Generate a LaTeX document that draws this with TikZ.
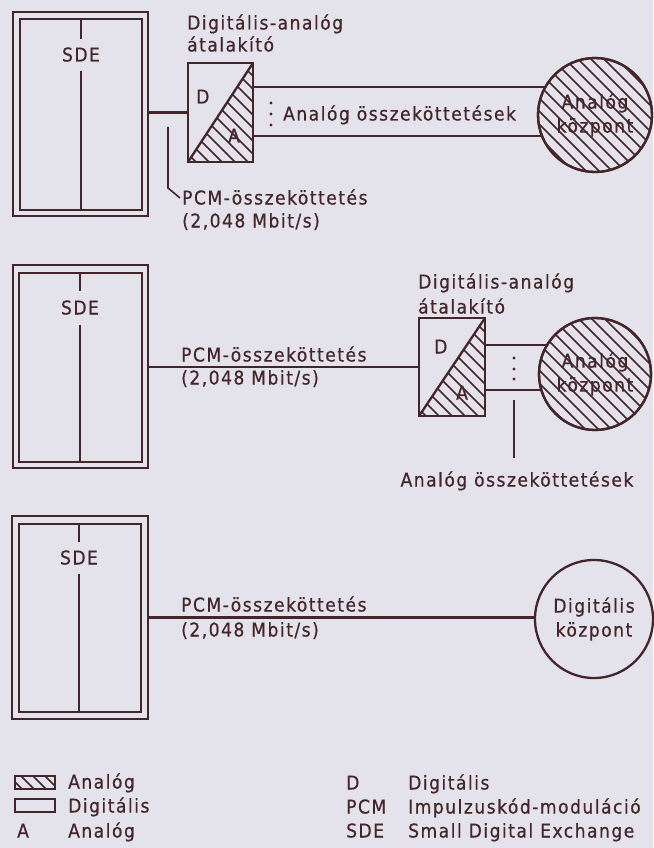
\documentclass[tikz,border=0pt]{standalone}
\usepackage{fontspec}
\setmainfont{DejaVu Sans Condensed}[LetterSpace=8,FakeBold=0.6]
\usetikzlibrary{calc}
\definecolor{ink}{RGB}{68,38,42}
\definecolor{bgc}{RGB}{228,227,235}
\pgfdeclarelayer{bgl}
\pgfdeclarelayer{conn}
\pgfsetlayers{bgl,conn,main}
\tikzset{
  inkline/.style={draw=ink, line width=2.3pt},
  thinline/.style={draw=ink, line width=1.6pt},
  box/.style={draw=ink, line width=2.3pt, rectangle, inner sep=0pt, outer sep=0pt},
  exch/.style={draw=ink, line width=2.3pt, circle, fill=bgc, inner sep=0pt, outer sep=0pt, minimum size=#1},
  lbl/.style={text=ink, inner sep=0pt, anchor=west, text height=13pt, text depth=0pt, font=\fontsize{19}{23}\selectfont},
  ctr/.style={text=ink, inner sep=0pt, align=center, font=\fontsize{19}{24}\selectfont},
  hatch/.style={draw=ink, line width=1.6pt},
  dotmark/.style={fill=ink}
}
\begin{document}
\begin{tikzpicture}[x=1pt,y=-1pt]
\useasboundingbox (0,0) rectangle (653,848);
\begin{pgfonlayer}{bgl}
  \fill[bgc] (0,0) rectangle (653,848);
\end{pgfonlayer}

% ================= Panel 1 =================
\node[box, minimum width=135, minimum height=204] (sde1) at (80.5,114) {};
\node[box, minimum width=122, minimum height=191] (sde1i) at (81,114.5) {};
\node[lbl, anchor=center, inner ysep=9pt] (sdel1) at (81,55) {SDE};
\draw[inkline] (sde1i.north -| sdel1.center) -- (sdel1.north);
\draw[inkline] (sdel1.south) -- (sde1i.south -| sdel1.center);

\node[box, minimum width=65, minimum height=99] (da1) at (220.5,112.5) {};
\begin{scope}
  \clip (da1.south west) -- (da1.north east) -- (da1.south east) -- cycle;
  \foreach \k in {-9,...,6} \draw[hatch] ($(da1.north west)+(\k*13,0)$) -- ++(130,130);
\end{scope}
\draw[inkline] (da1.south west) -- (da1.north east);
\node[lbl] (d1) at (196,97) {D};
\node[lbl] (a1) at (228,136) {A};
\node[lbl] (t1a) at (187,23) {Digitális-analóg};
\node[lbl] (t1b) at (187,45) {átalakító};

\draw[inkline] (sde1.east |- da1.west) -- (da1.west);

\node[exch=114] (c1) at (595,115) {};
\begin{scope}
  \clip (c1.center) circle (57);
  \foreach \k in {-10,...,10} \draw[hatch] ($(c1.center)+(\k*13-70,-70)$) -- ++(140,140);
\end{scope}
\draw[inkline] (c1.center) circle (57);
\node[ctr] (c1t) at (c1.center) {Analóg\\központ};

\begin{pgfonlayer}{conn}
  \draw[inkline] ($(da1.east)+(0,-25.5)$) -- ($(c1.center)+(0,-28)$);
  \draw[inkline] ($(da1.east)+(0,23.5)$) -- ($(c1.center)+(0,21)$);
\end{pgfonlayer}
\fill[dotmark] (271,103) circle (1.7);
\fill[dotmark] (271,114) circle (1.7);
\fill[dotmark] (271,125) circle (1.7);
\node[lbl] (al1) at (283,114) {Analóg összeköttetések};

\coordinate (pl1) at (168,127);
\node[lbl] (pcm1) at (182,198) {PCM-összeköttetés};
\node[lbl] (rate1) at (182,221) {(2,048 Mbit/s)};
\draw[thinline] (pl1) -- ($(pl1)+(0,61)$) -- ($(pcm1.west)+(-2,0)$);

% ================= Panel 2 =================
\node[box, minimum width=135, minimum height=203] (sde2) at (80.5,366.5) {};
\node[box, minimum width=123, minimum height=189] (sde2i) at (80.5,367.5) {};
\node[lbl, anchor=center, inner ysep=10pt] (sdel2) at (80,308) {SDE};
\draw[inkline] (sde2i.north -| sdel2.center) -- (sdel2.north);
\draw[inkline] (sdel2.south) -- (sde2i.south -| sdel2.center);

\node[box, minimum width=66, minimum height=98] (da2) at (452,367) {};
\begin{scope}
  \clip (da2.south west) -- (da2.north east) -- (da2.south east) -- cycle;
  \foreach \k in {-9,...,6} \draw[hatch] ($(da2.north west)+(\k*13,0)$) -- ++(130,130);
\end{scope}
\draw[inkline] (da2.south west) -- (da2.north east);
\node[lbl] (d2) at (434,347) {D};
\node[lbl] (a2) at (456,393) {A};
\node[lbl] (t2a) at (418,282) {Digitális-analóg};
\node[lbl] (t2b) at (418,307) {átalakító};

\draw[inkline] (sde2.east |- da2.west) -- (da2.west);
\node[lbl] (pcm2) at (181,355) {PCM-összeköttetés};
\node[lbl] (rate2) at (181,378) {(2,048 Mbit/s)};

\node[exch=112] (c2) at (595,374) {};
\begin{scope}
  \clip (c2.center) circle (56);
  \foreach \k in {-10,...,10} \draw[hatch] ($(c2.center)+(\k*13-70,-70)$) -- ++(140,140);
\end{scope}
\draw[inkline] (c2.center) circle (56);
\node[ctr] (c2t) at (c2.center) {Analóg\\központ};

\begin{pgfonlayer}{conn}
  \draw[inkline] ($(da2.east)+(0,-22)$) -- ($(c2.center)+(0,-29)$);
  \draw[inkline] ($(da2.east)+(0,23)$) -- ($(c2.center)+(0,16)$);
\end{pgfonlayer}
\fill[dotmark] (514,358) circle (1.7);
\fill[dotmark] (514,369) circle (1.7);
\fill[dotmark] (514,379) circle (1.7);

\node[lbl, anchor=center] (al2) at (517,480) {Analóg összeköttetések};
\coordinate (ll2) at (514,400);
\draw[thinline] (ll2) -- ($(al2.north -| ll2)+(0,-15)$);

% ================= Panel 3 =================
\node[box, minimum width=136, minimum height=203] (sde3) at (80,617.5) {};
\node[box, minimum width=122, minimum height=188] (sde3i) at (80,618) {};
\node[lbl, anchor=center, inner ysep=9.5pt] (sdel3) at (79,558) {SDE};
\draw[inkline] (sde3i.north -| sdel3.center) -- (sdel3.north);
\draw[inkline] (sdel3.south) -- (sde3i.south -| sdel3.center);

\node[exch=118] (c3) at (594,619) {};
\node[ctr] (c3t) at (c3.center) {Digitális\\központ};
\begin{pgfonlayer}{conn}
  \draw[inkline] (sde3.east) -- (sde3.east -| c3.center);
\end{pgfonlayer}
\node[lbl] (pcm3) at (181,605) {PCM-összeköttetés};
\node[lbl] (rate3) at (181,630) {(2,048 Mbit/s)};

% ================= Legend =================
\node[box, line width=2pt, minimum width=40, minimum height=13] (lh) at (35,782.5) {};
\begin{scope}
  \clip (lh.south west) rectangle (lh.north east);
  \foreach \k in {-2,...,4} \draw[hatch] ($(lh.north west)+(\k*12-6,0)$) -- ++(20,20);
\end{scope}
\node[box, line width=2pt, minimum width=40, minimum height=13] (lp) at (35,805.5) {};
\node[lbl] (lt1) at (68,782) {Analóg};
\node[lbl] (lt2) at (68,806) {Digitális};
\node[lbl] (la3) at (17,831) {A};
\node[lbl] (lt3) at (68,831) {Analóg};

\node[lbl] (ra1) at (346,783) {D};
\node[lbl] (ra2) at (346,807) {PCM};
\node[lbl] (ra3) at (346,831) {SDE};
\node[lbl] (rt1) at (408,783) {Digitális};
\node[lbl] (rt2) at (408,807) {Impulzuskód-moduláció};
\node[lbl] (rt3) at (408,831) {Small Digital Exchange};
\end{tikzpicture}
\end{document}
